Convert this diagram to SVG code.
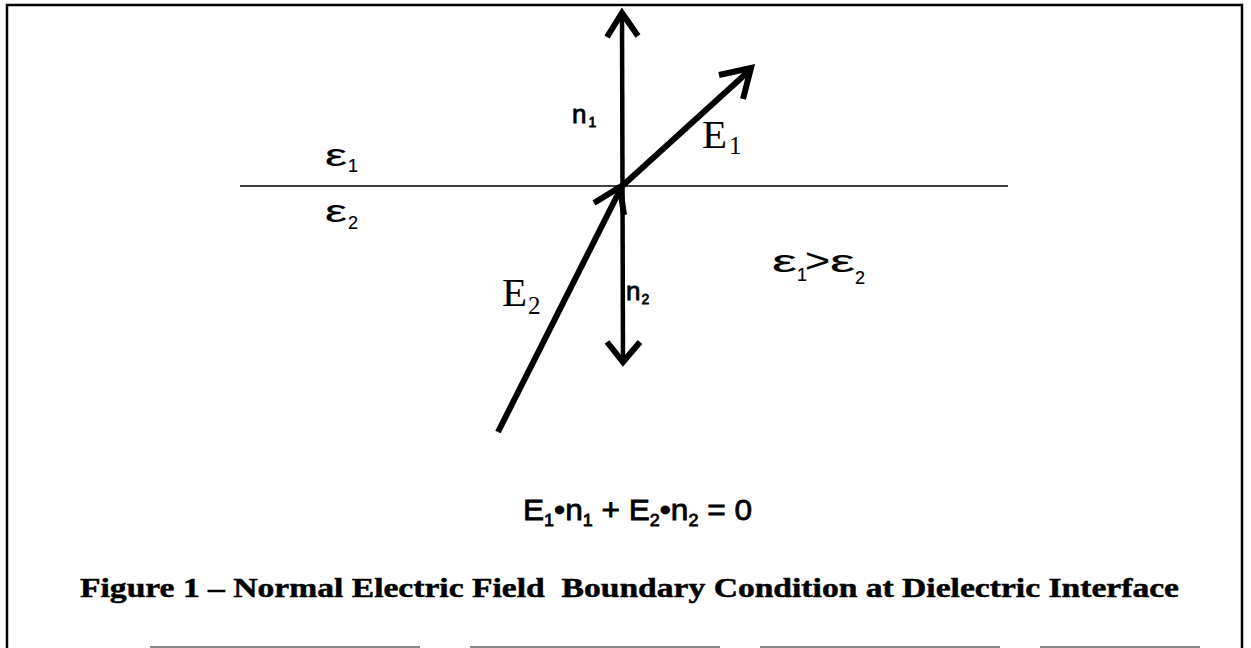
<svg xmlns="http://www.w3.org/2000/svg" width="1251" height="648" viewBox="0 0 1251 648">
<style>
.frame{stroke:#000;stroke-width:2.5;fill:none}
.thin{stroke:#000;stroke-width:1.5;fill:none}
.vec{stroke:#000;stroke-width:4.5;fill:none}
.vecb{stroke:#000;stroke-width:6;fill:none}
.head{stroke:#000;stroke-width:6;fill:none;stroke-linecap:butt;stroke-linejoin:miter}
.sans{font-family:"Liberation Sans",Arial,sans-serif;fill:#000;stroke:#000;stroke-width:0.8}
.eps{font-family:"Liberation Sans",Arial,sans-serif;fill:#000;stroke:#000;stroke-width:0.2}
.serif{font-family:"Liberation Serif","Times New Roman",serif;fill:#000}
.cap{stroke:#000;stroke-width:0.5}
</style>
<rect width="1251" height="648" fill="#fff"/>
<g id="frame">
<path class="frame" d="M7,648 V5 H1242 V648"/>
<path d="M150,647 H420 M470,647 H720 M760,647 H1000 M1040,647 H1200" stroke="#888" stroke-width="2"/>
</g>
<g id="interface">
<line class="thin" x1="240" y1="186" x2="1008" y2="186"/>
</g>
<g id="connectors">
<line class="vec" x1="622" y1="14" x2="623" y2="360"/>
<path class="head" d="M607,37 L622,13 L638,36"/>
<path class="head" d="M607,342 L623,362 L640,342"/>
<line class="vecb" x1="620" y1="188" x2="750" y2="70"/>
<path class="head" d="M719,75 L751,68 L743,99"/>
<line class="vecb" x1="498" y1="432" x2="620" y2="190"/>
<path class="head" d="M594,203 L620,187 L624,215"/>
</g>
<g id="labels">
<text class="sans" x="572" y="123" font-size="26">n<tspan font-size="14" dx="2" dy="4">1</tspan></text>
<text class="sans" x="626" y="300" font-size="26">n<tspan font-size="14" dx="1" dy="4">2</tspan></text>
<text class="serif" x="702" y="148" font-size="41">E<tspan font-size="25" dx="2" dy="6">1</tspan></text>
<text class="serif" x="502" y="306" font-size="41">E<tspan font-size="25" dx="1" dy="8">2</tspan></text>
<text class="eps" x="325" y="166" font-size="32" textLength="22" lengthAdjust="spacingAndGlyphs">ε</text>
<text class="eps" x="348" y="172" font-size="18">1</text>
<text class="eps" x="325" y="222" font-size="32" textLength="22" lengthAdjust="spacingAndGlyphs">ε</text>
<text class="eps" x="348" y="229" font-size="18">2</text>
<text class="eps" x="772" y="272" font-size="32" textLength="25" lengthAdjust="spacingAndGlyphs">ε</text>
<text class="eps" x="797" y="281" font-size="18">1</text>
<text class="eps" x="805" y="272" font-size="34" textLength="25" lengthAdjust="spacingAndGlyphs">&gt;</text>
<text class="eps" x="830" y="272" font-size="32" textLength="25" lengthAdjust="spacingAndGlyphs">ε</text>
<text class="eps" x="855" y="284" font-size="18">2</text>
<text class="sans" x="523" y="520" font-size="30" textLength="229" lengthAdjust="spacingAndGlyphs">E<tspan font-size="17" dy="6">1</tspan><tspan dy="-6">•n</tspan><tspan font-size="17" dy="6">1</tspan><tspan dy="-6"> + E</tspan><tspan font-size="17" dy="6">2</tspan><tspan dy="-6">•n</tspan><tspan font-size="17" dy="6">2</tspan><tspan dy="-6"> = 0</tspan></text>
<text class="serif cap" x="80" y="597" font-size="28" font-weight="bold" textLength="1099" lengthAdjust="spacingAndGlyphs" xml:space="preserve">Figure 1 – Normal Electric Field  Boundary Condition at Dielectric Interface</text>
</g>
</svg>
